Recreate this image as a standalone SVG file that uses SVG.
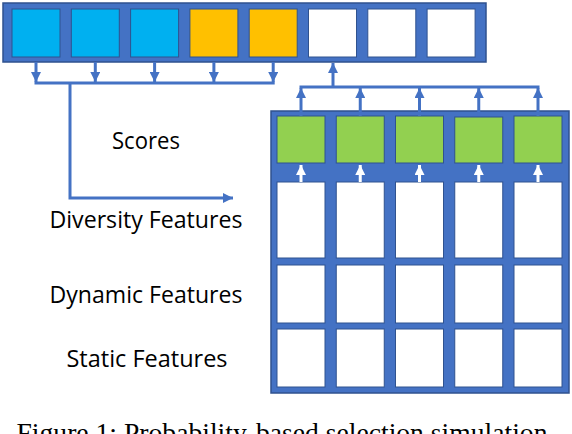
<svg xmlns="http://www.w3.org/2000/svg" width="572" height="434" viewBox="0 0 572 434">
<style>
.frame{fill:#4472C4;stroke:#2F528F;stroke-width:1.5}
.cell{stroke:#2F528F;stroke-width:1}
.w{fill:#FFFFFF}
.c{fill:#00B0F0}
.o{fill:#FFC000}
.g{fill:#92D050}
.ln{fill:none;stroke:#4472C4;stroke-width:3}
.wl{fill:none;stroke:#FFFFFF;stroke-width:3}
.lbl{font-family:"Open Sans","Liberation Sans",sans-serif;font-size:23px;fill:#000}
.cap{font-family:"Liberation Serif","Times New Roman",serif;font-size:27.6px;fill:#000}
</style>
<defs>
<marker id="ah" viewBox="0 0 10 10" refX="10" refY="5" markerWidth="10" markerHeight="10" markerUnits="userSpaceOnUse" orient="auto">
<path d="M0,0 L10,5 L0,10 z" fill="#4472C4"/>
</marker>
<marker id="wh" viewBox="0 0 10 10" refX="10" refY="5" markerWidth="10" markerHeight="10" markerUnits="userSpaceOnUse" orient="auto">
<path d="M0,0 L10,5 L0,10 z" fill="#FFFFFF"/>
</marker>
</defs>

<g id="top-bar">
<rect class="frame" x="3" y="3" width="483" height="59"/>
<rect class="cell c" x="12" y="9" width="48" height="48"/>
<rect class="cell c" x="71.3" y="9" width="48" height="48"/>
<rect class="cell c" x="130.6" y="9" width="48" height="48"/>
<rect class="cell o" x="189.9" y="9" width="48" height="48"/>
<rect class="cell o" x="249.2" y="9" width="48" height="48"/>
<rect class="cell w" x="308.5" y="9" width="48" height="48"/>
<rect class="cell w" x="367.8" y="9" width="48" height="48"/>
<rect class="cell w" x="427.1" y="9" width="48" height="48"/>
</g>

<g id="grid">
<rect class="frame" x="271" y="111" width="298" height="282"/>
<g id="scores-row">
<rect class="cell g" x="277" y="116" width="48" height="47"/>
<rect class="cell g" x="336.25" y="116" width="48" height="47"/>
<rect class="cell g" x="395.5" y="116" width="48" height="47"/>
<rect class="cell g" x="454.75" y="117" width="48" height="46"/>
<rect class="cell g" x="514" y="116" width="48" height="47"/>
</g>
<g id="diversity-row">
<rect class="cell w" x="277" y="182" width="48" height="76"/>
<rect class="cell w" x="336.25" y="182" width="48" height="76"/>
<rect class="cell w" x="395.5" y="182" width="48" height="76"/>
<rect class="cell w" x="454.75" y="182" width="48" height="76"/>
<rect class="cell w" x="514" y="182" width="48" height="76"/>
</g>
<g id="dynamic-row">
<rect class="cell w" x="277" y="265" width="48" height="58"/>
<rect class="cell w" x="336.25" y="265" width="48" height="58"/>
<rect class="cell w" x="395.5" y="265" width="48" height="58"/>
<rect class="cell w" x="454.75" y="265" width="48" height="58"/>
<rect class="cell w" x="514" y="265" width="48" height="58"/>
</g>
<g id="static-row">
<rect class="cell w" x="277" y="329" width="48" height="58"/>
<rect class="cell w" x="336.25" y="329" width="48" height="58"/>
<rect class="cell w" x="395.5" y="329" width="48" height="58"/>
<rect class="cell w" x="454.75" y="329" width="48" height="58"/>
<rect class="cell w" x="514" y="329" width="48" height="58"/>
</g>
</g>

<g id="connectors">
<path class="ln" d="M36,62 V82" marker-end="url(#ah)"/>
<path class="ln" d="M95.3,62 V82" marker-end="url(#ah)"/>
<path class="ln" d="M154.6,62 V82" marker-end="url(#ah)"/>
<path class="ln" d="M213.9,62 V82" marker-end="url(#ah)"/>
<path class="ln" d="M273.2,62 V82" marker-end="url(#ah)"/>
<path class="ln" d="M34.5,83 H274.7"/>
<path class="ln" d="M70,83 V198 H233" marker-end="url(#ah)"/>
<path class="ln" d="M301,116 V88" marker-end="url(#ah)"/>
<path class="ln" d="M360.25,116 V88" marker-end="url(#ah)"/>
<path class="ln" d="M419.5,116 V88" marker-end="url(#ah)"/>
<path class="ln" d="M478.75,116 V88" marker-end="url(#ah)"/>
<path class="ln" d="M538,116 V88" marker-end="url(#ah)"/>
<path class="ln" d="M299.5,87 H539.5"/>
<path class="ln" d="M333,87 V63" marker-end="url(#ah)"/>
<path class="wl" d="M301,182 V165" marker-end="url(#wh)"/>
<path class="wl" d="M360.25,182 V165" marker-end="url(#wh)"/>
<path class="wl" d="M419.5,182 V165" marker-end="url(#wh)"/>
<path class="wl" d="M478.75,182 V165" marker-end="url(#wh)"/>
<path class="wl" d="M538,182 V165" marker-end="url(#wh)"/>
</g>

<g id="labels">
<text class="lbl" x="112" y="149" textLength="68" lengthAdjust="spacingAndGlyphs">Scores</text>
<text class="lbl" x="49.5" y="228" textLength="193" lengthAdjust="spacingAndGlyphs">Diversity Features</text>
<text class="lbl" x="49.5" y="303" textLength="193" lengthAdjust="spacingAndGlyphs">Dynamic Features</text>
<text class="lbl" x="66.5" y="366.5" textLength="161" lengthAdjust="spacingAndGlyphs">Static Features</text>
<text class="cap" x="16.5" y="441.5" textLength="531" lengthAdjust="spacingAndGlyphs">Figure 1: Probability-based selection simulation</text>
</g>
</svg>
